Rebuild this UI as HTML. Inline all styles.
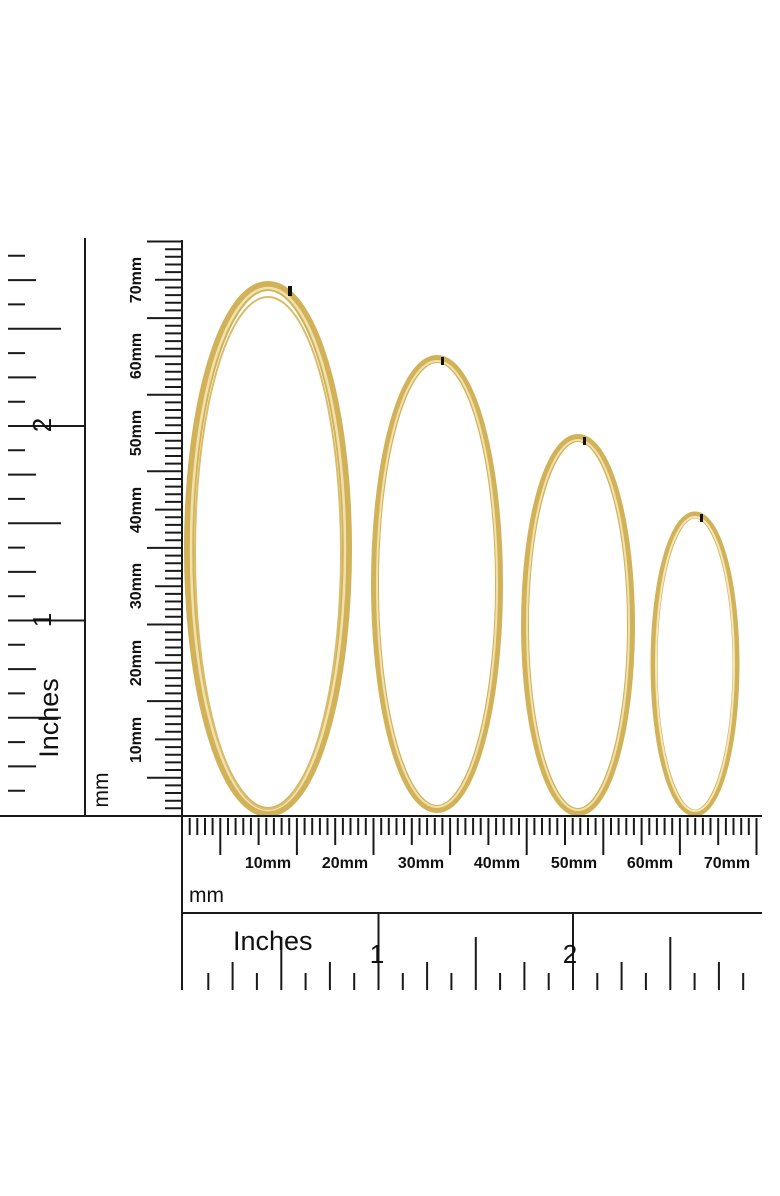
<!DOCTYPE html>
<html><head><meta charset="utf-8"><style>
html,body{margin:0;padding:0;background:#fff;}
svg{display:block;font-family:"Liberation Sans",sans-serif;}
</style></head><body>
<svg id="s" width="780" height="1196" viewBox="0 0 780 1196" xmlns="http://www.w3.org/2000/svg">
<g id="hoops" fill="none">
<ellipse cx="268" cy="549" rx="79" ry="263" stroke="#d2b258" stroke-width="10"/>
<ellipse cx="268" cy="549" rx="77" ry="261" stroke="#f1e1ad" stroke-width="2.5"/>
<ellipse cx="268" cy="553" rx="73" ry="256" stroke="#d9bd6a" stroke-width="2"/>
<ellipse cx="437" cy="584" rx="62" ry="225" stroke="#d2b258" stroke-width="8"/>
<ellipse cx="437" cy="584" rx="60" ry="223" stroke="#f1e1ad" stroke-width="2"/>
<ellipse cx="578" cy="625" rx="53" ry="187" stroke="#d2b258" stroke-width="8"/>
<ellipse cx="578" cy="625" rx="51" ry="185" stroke="#f1e1ad" stroke-width="2"/>
<ellipse cx="695" cy="664" rx="41" ry="149" stroke="#d2b258" stroke-width="7"/>
<ellipse cx="695" cy="664" rx="39" ry="147" stroke="#f3e6b8" stroke-width="2"/>
<rect x="288" y="286" width="4" height="10" fill="#111"/>
<rect x="441" y="357" width="3" height="8" fill="#111"/>
<rect x="583" y="437" width="3" height="8" fill="#111"/>
<rect x="700" y="514" width="3" height="8" fill="#111"/>
</g>
<g id="rul" stroke="#1a1a1a" stroke-width="2" fill="none"></g>
<g fill="#111" font-size="16" font-weight="bold">
<text x="268" y="868" text-anchor="middle">10mm</text>
<text x="345" y="868" text-anchor="middle">20mm</text>
<text x="421" y="868" text-anchor="middle">30mm</text>
<text x="497" y="868" text-anchor="middle">40mm</text>
<text x="574" y="868" text-anchor="middle">50mm</text>
<text x="650" y="868" text-anchor="middle">60mm</text>
<text x="727" y="868" text-anchor="middle">70mm</text>
<g font-weight="normal">
<text x="189" y="902" font-size="21">mm</text>
<text x="233" y="950" font-size="27">Inches</text>
<text x="377" y="963" font-size="26" text-anchor="middle">1</text>
<text x="570" y="963" font-size="26" text-anchor="middle">2</text>
<text transform="translate(108 790) rotate(-90)" font-size="21" text-anchor="middle">mm</text>
<text transform="translate(58 718) rotate(-90)" font-size="27" text-anchor="middle">Inches</text>
<text transform="translate(51 425) rotate(-90)" font-size="26" text-anchor="middle">2</text>
<text transform="translate(51 620) rotate(-90)" font-size="26" text-anchor="middle">1</text>
</g>
<g font-size="16">
<text transform="translate(141 740) rotate(-90)" text-anchor="middle">10mm</text>
<text transform="translate(141 663) rotate(-90)" text-anchor="middle">20mm</text>
<text transform="translate(141 586) rotate(-90)" text-anchor="middle">30mm</text>
<text transform="translate(141 510) rotate(-90)" text-anchor="middle">40mm</text>
<text transform="translate(141 433) rotate(-90)" text-anchor="middle">50mm</text>
<text transform="translate(141 356) rotate(-90)" text-anchor="middle">60mm</text>
<text transform="translate(141 280) rotate(-90)" text-anchor="middle">70mm</text>
</g>
</g>
</svg>
<script>
var g=document.getElementById('rul'),d='';
function L(a,b,c,e){d+='M'+a+' '+b+'L'+c+' '+e;}
L(182,816,762,816);L(182,240,182,990);L(182,913,762,913);
L(85,238,85,816);L(0,816,182,816);
var mm=7.66;
for(var i=1;182+i*mm<760;i++){var x=182+i*mm,len=i%10==5?37:(i%10==0?27:17);L(x.toFixed(1),818,x.toFixed(1),818+len);}
for(var i=1;816-i*mm>240;i++){var y=816-i*mm,len=i%10==5?35:(i%10==0?27:17);L(182,y.toFixed(1),182-len,y.toFixed(1));}
var inch=194.5;
for(var i=1;184+i*inch/8<760;i++){var x=184+i*inch/8,t=i%8==0?913:(i%4==0?937:(i%2==0?962:973));L(x.toFixed(1),t,x.toFixed(1),990);}
for(var i=1;815-i*inch/8>240;i++){var y=815-i*inch/8,e=i%8==0?85:(i%4==0?61:(i%2==0?36:25));L(8,y.toFixed(1),e,y.toFixed(1));}
var p=document.createElementNS('http://www.w3.org/2000/svg','path');p.setAttribute('d',d);g.appendChild(p);
</script>
</body></html>
